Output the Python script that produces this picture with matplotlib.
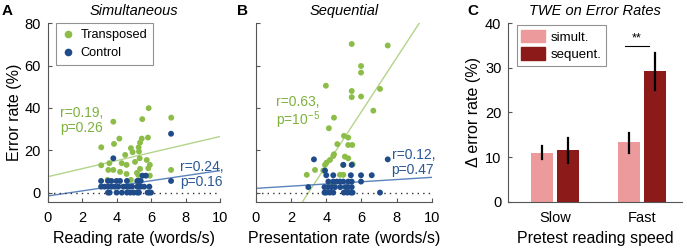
import matplotlib
matplotlib.use("Agg")
import matplotlib.pyplot as plt
import numpy as np
from matplotlib.lines import Line2D
from matplotlib.patches import Patch

plt.rcParams["font.family"] = ["Liberation Sans", "DejaVu Sans"]
plt.rcParams["mathtext.fontset"] = "custom"
plt.rcParams["mathtext.rm"] = "Liberation Sans"

# --- data ---
# Panel A: simultaneous
sim_trans_x = [5.86, 3.81, 5.49, 7.17, 4.16, 3.85, 3.11, 5.46, 5.36, 5.82, 4.83, 4.93,
               5.28, 5.30, 4.50, 5.34, 5.75, 3.11, 3.58, 3.81, 3.52, 4.58, 5.07, 5.36,
               5.84, 7.16, 4.83, 3.48, 4.20, 5.18, 5.93, 4.58, 5.26, 5.93, 4.30]
sim_trans_y = [39.9, 33.5, 34.7, 35.4, 25.5, 23.0, 21.4, 25.5, 23.6, 26.0, 21.0, 19.1,
               21.4, 19.4, 17.8, 16.2, 15.4, 12.9, 13.9, 10.7, 10.7, 13.1, 14.5, 11.2,
               11.5, 10.7, 6.0, 6.0, 9.8, 9.3, 13.1, 8.8, 8.3, 8.0, 13.9]
sim_ctrl_x = [3.81, 7.16, 7.16, 5.5, 5.7,
              3.1, 3.5, 3.7, 4.0, 4.2, 4.6, 5.2, 5.3, 5.4,
              3.1, 3.3, 3.5, 3.7, 3.9, 4.1, 4.4, 4.6, 4.7, 4.9, 5.2, 5.3, 5.4, 5.6, 5.9,
              3.5, 3.6, 4.0, 4.3, 4.6, 4.8, 5.0, 5.2, 5.3, 5.8, 5.9, 6.0]
sim_ctrl_y = [16.2, 27.8, 5.5, 8.0, 8.0,
              5.5, 5.5, 5.5, 5.5, 5.5, 5.5, 5.5, 5.5, 5.5,
              2.8, 2.8, 2.8, 2.8, 2.8, 2.8, 2.8, 2.8, 2.8, 2.8, 2.8, 2.8, 2.8, 2.8, 2.8,
              0, 0, 0, 0, 0, 0, 0, 0, 0, 0, 0, 0]

# Panel B: sequential
seq_trans_x = [5.45, 7.5, 5.98, 5.98, 3.98, 5.45, 5.45, 5.98, 7.06, 6.68, 4.44, 4.15,
               5.01, 5.25, 4.63, 5.25, 5.48, 4.44, 4.4, 4.21, 4.02, 3.93, 5.06, 5.25,
               4.97, 5.5, 3.36, 3.83, 2.89, 4.78, 4.97, 4.31]
seq_trans_y = [70.2, 69.5, 59.8, 56.7, 50.5, 48.0, 45.1, 45.4, 49.0, 38.7, 35.4, 30.4,
               26.8, 26.0, 22.9, 22.5, 22.5, 18.1, 17.3, 15.4, 14.2, 13.1, 17.0, 16.2,
               13.1, 13.4, 10.7, 10.4, 8.4, 8.4, 8.4, 3.6]
seq_ctrl_x = [3.3, 7.5, 4.97, 5.45, 3.93,
              4.0, 4.4, 5.4, 5.98, 6.59,
              4.12, 4.4, 4.6, 4.78, 4.97, 5.25, 5.45, 5.98,
              2.98, 3.9, 4.1, 4.3, 4.5, 4.8, 5.1, 5.25, 5.45,
              3.9, 4.0, 4.2, 4.4, 5.0, 5.2, 5.4, 5.5, 7.06]
seq_ctrl_y = [15.7, 15.7, 13.1, 13.1, 10.4,
              8.2, 8.2, 8.2, 8.2, 8.2,
              5.2, 5.2, 5.2, 5.2, 5.2, 5.2, 5.2, 5.2,
              2.6, 2.6, 2.6, 2.6, 2.6, 2.6, 2.6, 2.6, 2.6,
              0, 0, 0, 0, 0, 0, 0, 0, 0]

# regression lines: (value at x=0, value at x=10)
fit_sim_trans = (7.5, 26.5)
fit_sim_ctrl = (-1.6, 10.4)
fit_seq_trans = (-38.0, 89.0)
fit_seq_ctrl = (2.0, 7.2)

# Panel C
groups = ["Slow", "Fast"]
simult_mean = [11.0, 13.4]
simult_lo = [9.5, 11.0]
simult_hi = [12.4, 15.5]
sequent_mean = [11.5, 29.3]
sequent_lo = [8.7, 25.0]
sequent_hi = [14.2, 33.3]

# --- styles ---
GREEN = "#8cbd48"
BLUE = "#1f4b8a"
GREEN_LINE = "#b3d48a"
BLUE_LINE = "#5a84bc"
GREEN_TXT = "#7eb13e"
BLUE_TXT = "#2a5894"
PINK = "#ec9a9b"
DARKRED = "#8b1a18"
SPINE = "#555555"

fig = plt.figure(figsize=(6.87, 2.49), dpi=100)


def style_axes(ax):
    for s in ["top", "right"]:
        ax.spines[s].set_visible(False)
    for s in ["left", "bottom"]:
        ax.spines[s].set_color(SPINE)
        ax.spines[s].set_linewidth(0.8)
    ax.tick_params(direction="in", length=3, width=0.8, color=SPINE, labelsize=10.5, pad=5)
    ax.tick_params(axis="x", pad=7)


def scatter_panel(ax, tx, ty, cx, cy, fit_t, fit_c):
    xs = np.array([0, 10])
    ax.plot(xs, fit_t, color=GREEN_LINE, lw=1.0, zorder=1)
    ax.plot(xs, fit_c, color=BLUE_LINE, lw=1.0, zorder=1)
    ax.plot(xs, [0, 0], color="#333333", lw=1.0, ls=(0, (1, 3)), zorder=1)
    ax.scatter(tx, ty, s=18, color=GREEN, edgecolors="none", zorder=3, label="Transposed")
    ax.scatter(cx, cy, s=18, color=BLUE, edgecolors="none", zorder=3, label="Control")
    ax.set_xlim(0, 10)
    ax.set_ylim(-4.3, 80)
    ax.set_xticks([0, 2, 4, 6, 8, 10])
    ax.set_yticks([0, 20, 40, 60, 80])
    style_axes(ax)


# Panel A
axA = fig.add_axes([0.0694, 0.19, 0.2508, 0.7165])
scatter_panel(axA, sim_trans_x, sim_trans_y, sim_ctrl_x, sim_ctrl_y, fit_sim_trans, fit_sim_ctrl)
axA.set_xlabel("Reading rate (words/s)", fontsize=11.5, labelpad=4)
axA.set_ylabel("Error rate (%)", fontsize=11.5, labelpad=2)
axA.set_title("Simultaneous", fontsize=10.5, style="italic", pad=6)
axA.text(0.72, 34, "r=0.19,\np=0.26", color=GREEN_TXT, fontsize=10, va="center", linespacing=1.05)
axA.text(7.68, 8.6, "r=0.24,\np=0.16", color=BLUE_TXT, fontsize=10, va="center",
         linespacing=1.05, clip_on=False)
handles = [Line2D([], [], marker="o", ls="none", color=GREEN, markersize=4.5, label="Transposed"),
           Line2D([], [], marker="o", ls="none", color=BLUE, markersize=4.5, label="Control")]
leg = axA.legend(handles=handles, loc="upper left", bbox_to_anchor=(0.048, 1.0), borderaxespad=0,
                 fontsize=9.2, frameon=True, fancybox=False, edgecolor="#777777",
                 handletextpad=0.5, borderpad=0.45, labelspacing=0.5, handlelength=1.0)
leg.get_frame().set_linewidth(0.8)

# Panel B
axB = fig.add_axes([0.3726, 0.19, 0.2557, 0.7165])
scatter_panel(axB, seq_trans_x, seq_trans_y, seq_ctrl_x, seq_ctrl_y, fit_seq_trans, fit_seq_ctrl)
axB.set_yticklabels([])
axB.set_xlabel("Presentation rate (words/s)", fontsize=11.5, labelpad=4)
axB.set_title("Sequential", fontsize=10.5, style="italic", pad=6)
axB.text(1.12, 37.5, "r=0.63,\np=10$^{\\mathrm{-5}}$", color=GREEN_TXT, fontsize=10, va="center",
         linespacing=1.05)
axB.text(7.72, 14.3, "r=0.12,\np=0.47", color=BLUE_TXT, fontsize=10, va="center",
         linespacing=1.05, clip_on=False)

# Panel C
axC = fig.add_axes([0.740, 0.19, 0.2524, 0.7165])
pos = np.arange(1, len(groups) + 1)
w = 0.25
off = 0.15
axC.bar(pos - off, simult_mean, width=w, color=PINK, label="simult.")
axC.bar(pos + off, sequent_mean, width=w, color=DARKRED, label="sequent.")
for p, lo, hi in zip(pos - off, simult_lo, simult_hi):
    axC.plot([p, p], [lo, hi], color="black", lw=1.6)
for p, lo, hi in zip(pos + off, sequent_lo, sequent_hi):
    axC.plot([p, p], [lo, hi], color="black", lw=1.6)
axC.plot([pos[1] - 0.2, pos[1] + 0.08], [34.8, 34.8], color="black", lw=0.8)
axC.text(pos[1] - 0.06, 35.2, "**", ha="center", va="bottom", fontsize=9)
axC.set_xlim(0.46, 2.46)
axC.set_ylim(0, 40)
axC.set_yticks([0, 10, 20, 30, 40])
axC.set_xticks(pos)
axC.set_xticklabels(groups)
style_axes(axC)
axC.tick_params(axis="x", length=0)
axC.set_xlabel("Pretest reading speed", fontsize=11.5, labelpad=4)
axC.set_ylabel("Δ error rate (%)", fontsize=11.5, labelpad=3)
axC.set_title("TWE on Error Rates", fontsize=10.5, style="italic", pad=6)
legC = axC.legend(handles=[Patch(color=PINK, label="simult."), Patch(color=DARKRED, label="sequent.")],
                  loc="upper left", bbox_to_anchor=(0.048, 0.99), borderaxespad=0, fontsize=9.5,
                  frameon=True, fancybox=False, edgecolor="#777777", handletextpad=0.4,
                  borderpad=0.35, labelspacing=0.3, handlelength=1.8, handleheight=1.1)
legC.get_frame().set_linewidth(0.8)

# panel letters
fig.text(0.003, 0.955, "A", fontsize=11, fontweight="bold", va="center")
fig.text(0.345, 0.955, "B", fontsize=11, fontweight="bold", va="center")
fig.text(0.680, 0.955, "C", fontsize=11, fontweight="bold", va="center")

fig.savefig("out.png", dpi=100)
